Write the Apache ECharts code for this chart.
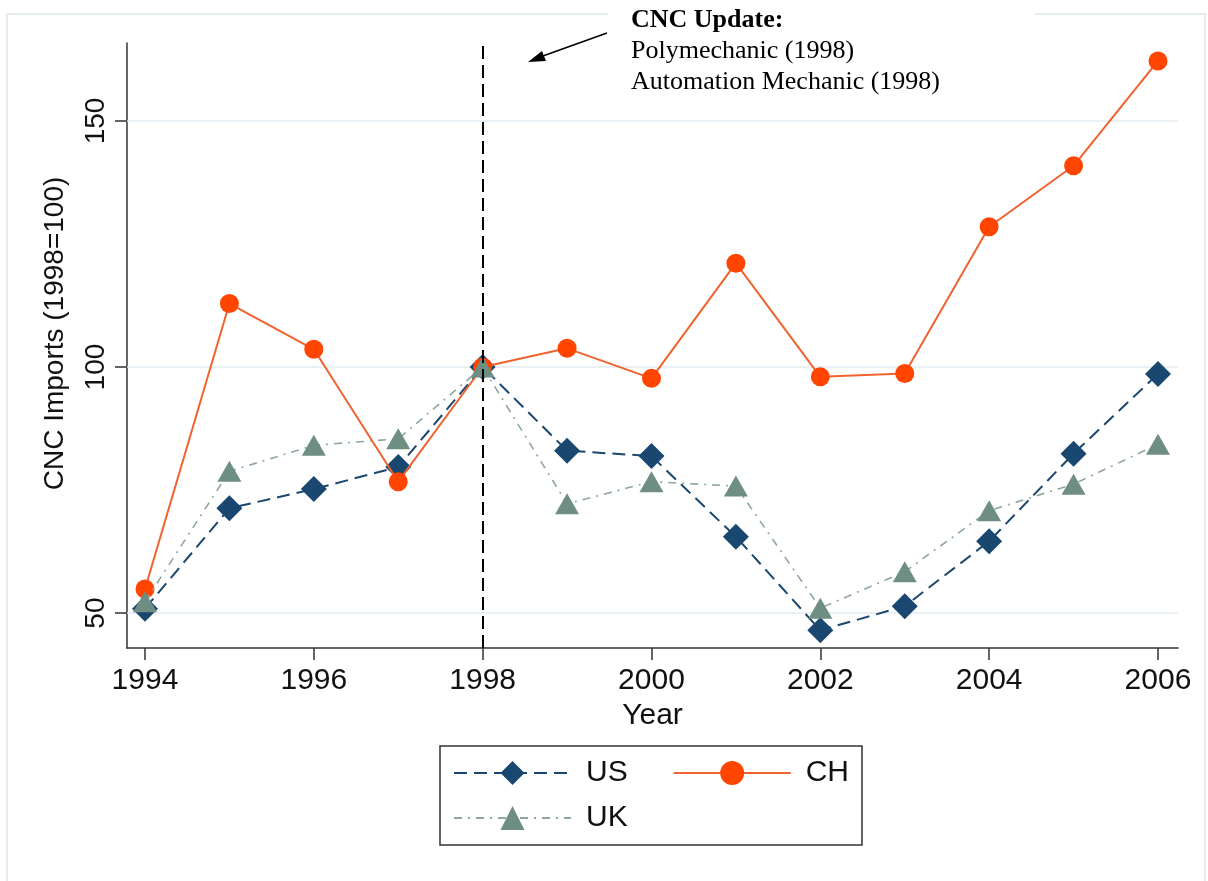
<!DOCTYPE html>
<html>
<head>
<meta charset="utf-8">
<script src="https://cdn.jsdelivr.net/npm/echarts@6/dist/echarts.min.js"></script>
<style>
  html, body { margin: 0; padding: 0; background: #fff; }
  #main { width: 1208px; height: 881px; }
</style>
</head>
<body>
<div id="main"></div>
<script>
// data
var years = [1994, 1995, 1996, 1997, 1998, 1999, 2000, 2001, 2002, 2003, 2004, 2005, 2006];
var usValues = [50.9, 71.3, 75.2, 79.7, 100, 83.0, 81.9, 65.5, 46.5, 51.4, 64.6, 82.4, 98.6];
var chValues = [54.9, 112.9, 103.6, 76.7, 100, 103.8, 97.7, 121.1, 98.0, 98.7, 128.5, 140.9, 162.2];
var ukValues = [52.3, 78.8, 84.1, 85.4, 100, 72.2, 76.7, 75.8, 51.0, 58.4, 70.8, 76.2, 84.3];
var xTicks = [1994, 1996, 1998, 2000, 2002, 2004, 2006];
var yTicks = [50, 100, 150];
var updateYear = 1998;
var noteLines = ['CNC Update:', 'Polymechanic (1998)', 'Automation Mechanic (1998)'];

function pairs(vals) {
  return years.map(function (y, i) { return [y, vals[i]]; });
}

var chartDom = document.getElementById('main');
var myChart = echarts.init(chartDom, null, { renderer: 'canvas' });

var sans = '"Liberation Sans", Arial, sans-serif';
var serif = '"Liberation Serif", "Times New Roman", serif';

// shared look of the two legend rows (drawn inside one box)
var legendBase = {
  left: 453,
  padding: 0,
  itemWidth: 117,
  itemHeight: 30,
  itemGap: 45,
  textStyle: { fontFamily: sans, fontSize: 30, color: '#111', padding: [0, 0, 0, 10] }
};

var option = {
  animation: false,
  backgroundColor: '#fff',
  grid: { left: 127, right: 30, top: 43, bottom: 233 },
  xAxis: {
    type: 'value',
    min: 1993.787,
    max: 2006.237,
    name: 'Year',
    nameLocation: 'middle',
    nameGap: 47,
    nameTextStyle: { fontFamily: sans, fontSize: 30, color: '#111' },
    axisLine: { lineStyle: { color: '#333', width: 1.5 } },
    axisTick: { customValues: xTicks, length: 12, lineStyle: { color: '#333', width: 1.5 } },
    axisLabel: {
      customValues: xTicks, margin: 18, fontFamily: sans, fontSize: 30, color: '#111',
      formatter: function (v) { return String(v); }
    },
    splitLine: { show: false }
  },
  yAxis: {
    type: 'value',
    min: 42.9,
    max: 165.85,
    name: 'CNC Imports (1998=100)',
    nameLocation: 'middle',
    nameGap: 58,
    nameTextStyle: { fontFamily: sans, fontSize: 28, color: '#111', padding: [0, 0, 0, 24] },
    axisLine: { show: true, lineStyle: { color: '#333', width: 1.5 } },
    axisTick: { show: true, customValues: yTicks, length: 12, lineStyle: { color: '#333', width: 1.5 } },
    axisLabel: { customValues: yTicks, rotate: 90, margin: 17, fontFamily: sans, fontSize: 28, color: '#111' },
    splitLine: { show: false }
  },
  legend: [
    Object.assign({ data: ['US', 'CH'], top: 758 }, legendBase),
    Object.assign({ data: ['UK'], top: 803 }, legendBase)
  ],
  graphic: [
    {
      type: 'rect', silent: true, z: -10,
      shape: { x: 7, y: 14, width: 1198, height: 870 },
      style: { fill: 'none', stroke: '#e6edf0', lineWidth: 2 }
    },
    {
      type: 'rect', silent: true, z: 50,
      shape: { x: 440, y: 746, width: 422, height: 99 },
      style: { fill: 'none', stroke: '#333', lineWidth: 1.5 }
    },
    {
      type: 'rect', silent: true, z: 100,
      shape: { x: 608, y: 0, width: 427, height: 30 },
      style: { fill: '#fff' }
    },
    {
      type: 'text', z: 101, left: 631, top: 7,
      style: { text: noteLines[0], font: 'bold 26px ' + serif, fill: '#000' }
    },
    {
      type: 'text', z: 101, left: 631, top: 38,
      style: { text: noteLines[1], font: '26px ' + serif, fill: '#000' }
    },
    {
      type: 'text', z: 101, left: 631, top: 69,
      style: { text: noteLines[2], font: '26px ' + serif, fill: '#000' }
    },
    {
      type: 'line', z: 101,
      shape: { x1: 607, y1: 33, x2: 540, y2: 57 },
      style: { stroke: '#000', lineWidth: 1.5 }
    },
    {
      type: 'polygon', z: 101,
      shape: { points: [[528, 62], [542, 51], [546, 61]] },
      style: { fill: '#000' }
    }
  ],
  series: [
    {
      name: 'US',
      type: 'line',
      z: 2,
      data: pairs(usValues),
      symbol: 'diamond',
      symbolSize: 26,
      itemStyle: { color: '#1a476f' },
      lineStyle: { color: '#1a476f', width: 2, type: [13, 7] },
      markLine: {
        silent: true,
        z: 1,
        symbol: 'none',
        label: { show: false },
        lineStyle: { color: '#e2edf1', width: 1.5, type: 'solid' },
        data: yTicks.map(function (v) { return { yAxis: v }; })
      }
    },
    {
      name: 'CH',
      type: 'line',
      z: 3,
      data: pairs(chValues),
      symbol: 'circle',
      symbolSize: 19,
      itemStyle: { color: '#ff4500' },
      lineStyle: { color: '#f0622e', width: 2, type: 'solid' }
    },
    {
      name: 'UK',
      type: 'line',
      z: 4,
      data: pairs(ukValues),
      symbol: 'triangle',
      symbolSize: [24, 21],
      itemStyle: { color: '#6e8e84' },
      lineStyle: { color: '#8ea69e', width: 1.6, type: [8, 6, 2, 6] },
      markLine: {
        silent: true,
        z: 6,
        symbol: 'none',
        label: { show: false },
        lineStyle: { color: '#000', width: 2, type: [13, 6] },
        data: [{ xAxis: updateYear }]
      }
    }
  ]
};

option && myChart.setOption(option);
</script>
</body>
</html>
